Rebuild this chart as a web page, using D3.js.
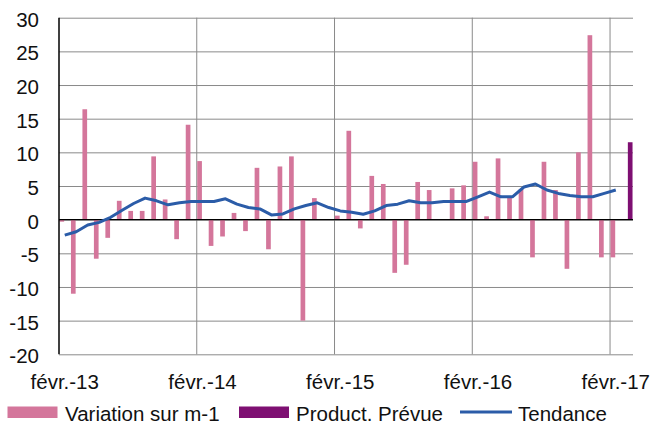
<!DOCTYPE html>
<html>
<head>
<meta charset="utf-8">
<script src="https://cdn.jsdelivr.net/npm/d3@7"></script>
<style>
  body { margin: 0; background: #fff; }
  text { font-family: "Liberation Sans", Arial, sans-serif; font-size: 20.5px; fill: #111; }
</style>
</head>
<body>
<div id="chart"></div>
<script>
var svgWidth = 654;
var svgHeight = 425;

// months from févr.-13 to mars-17 (50 categories)
var months = d3.timeMonth.range(new Date(2013, 1, 1), new Date(2017, 3, 1));
var tickIdx = [0, 12, 24, 36, 48];
var tickLabels = ["févr.-13", "févr.-14", "févr.-15", "févr.-16", "févr.-17"];
var yTicks = [-20, -15, -10, -5, 0, 5, 10, 15, 20, 25, 30];

var variation = [-0.3, -11.0, 16.4, -5.8, -2.7, 2.8, 1.3, 1.3, 9.4, 3.0, -2.9, 14.1,
  8.7, -3.9, -2.5, 1.0, -1.7, 7.7, -4.4, 7.9, 9.4, -15.0, 3.2, 0.0,
  0.6, 13.2, -1.3, 6.5, 5.3, -7.9, -6.7, 5.6, 4.4, 0.0, 4.65, 5.1,
  8.6, 0.5, 9.1, 3.5, 4.5, -5.6, 8.6, 4.4, -7.3, 10.0, 27.4, -5.6,
  -5.6, null];
var prevue = [];
prevue[49] = 11.5;
var tendance = [-2.3, -1.8, -0.8, -0.4, 0.35, 1.4, 2.4, 3.2, 2.8, 2.2, 2.5, 2.7,
  2.7, 2.7, 3.1, 2.3, 1.8, 1.6, 0.7, 0.85, 1.6, 2.1, 2.5, 1.8,
  1.3, 1.1, 0.8, 1.3, 2.1, 2.3, 2.8, 2.5, 2.5, 2.7, 2.7, 2.7,
  3.4, 4.1, 3.4, 3.4, 4.85, 5.3, 4.4, 3.9, 3.6, 3.4, 3.4, 3.9,
  4.4];

var pinkColor = "#d4769b";
var purpleColor = "#7e0f72";
var blueColor = "#2b5ca8";
var gridColor = "#8a8a8a";

var plotLeft = 59, plotRight = 633, plotTop = 17.7, plotBottom = 354.3;

var svg = d3.select("#chart")
  .append("svg")
  .attr("width", svgWidth)
  .attr("height", svgHeight);

var x = d3.scaleBand()
  .domain(d3.range(months.length))
  .range([plotLeft, plotRight])
  .padding(0);

var bw = x.bandwidth();

var xSeries = d3.scaleBand()
  .domain(["variation", "prevue"])
  .range([0, bw])
  .paddingInner(0.2)
  .paddingOuter(0.08);

var y = d3.scaleLinear()
  .domain([-20, 30])
  .range([plotBottom, plotTop]);

// y axis with horizontal grid
var yAxis = svg.append("g")
  .attr("transform", `translate(${plotLeft},0)`)
  .call(d3.axisLeft(y).tickValues(yTicks).tickSize(-(plotRight - plotLeft)).tickFormat(d => String(d)));
yAxis.select(".domain").remove();
yAxis.selectAll("line").attr("stroke", gridColor).attr("stroke-width", 1);
yAxis.selectAll("text")
  .attr("x", -20)
  .attr("dy", "0.42em")
  .style("font-size", "20.5px")
  .attr("fill", "#111");

// vertical grid at years
svg.append("g")
  .selectAll("line")
  .data(tickIdx.slice(1))
  .enter()
  .append("line")
  .attr("x1", d => x(d))
  .attr("x2", d => x(d))
  .attr("y1", plotTop)
  .attr("y2", plotBottom)
  .attr("stroke", gridColor)
  .attr("stroke-width", 1);

// bars
svg.append("g")
  .selectAll("rect")
  .data(variation.map((v, i) => ({ i: i, v: v })).filter(d => d.v != null))
  .enter()
  .append("rect")
  .attr("x", d => x(d.i) + xSeries("variation"))
  .attr("width", xSeries.bandwidth())
  .attr("y", d => y(Math.max(0, d.v)))
  .attr("height", d => Math.abs(y(d.v) - y(0)))
  .attr("fill", pinkColor);

svg.append("g")
  .selectAll("rect")
  .data(prevue.map((v, i) => ({ i: i, v: v })).filter(d => d.v != null))
  .enter()
  .append("rect")
  .attr("x", d => x(d.i) + xSeries("prevue"))
  .attr("width", xSeries.bandwidth())
  .attr("y", d => y(Math.max(0, d.v)))
  .attr("height", d => Math.abs(y(d.v) - y(0)))
  .attr("fill", purpleColor);

// zero line and left axis
svg.append("line")
  .attr("x1", plotLeft).attr("x2", plotRight)
  .attr("y1", y(0)).attr("y2", y(0))
  .attr("stroke", "#000").attr("stroke-width", 1.3);
svg.append("line")
  .attr("x1", plotLeft).attr("x2", plotLeft)
  .attr("y1", plotTop).attr("y2", plotBottom)
  .attr("stroke", "#000").attr("stroke-width", 1.5);

// trend line
var line = d3.line()
  .x((d, i) => x(i) + bw / 2)
  .y(d => y(d));
svg.append("path")
  .datum(tendance)
  .attr("d", line)
  .attr("fill", "none")
  .attr("stroke", blueColor)
  .attr("stroke-width", 3)
  .attr("stroke-linejoin", "round");

// x axis labels
var xAxis = svg.append("g")
  .attr("transform", `translate(0,${plotBottom})`)
  .call(d3.axisBottom(x).tickValues(tickIdx).tickSize(0).tickFormat((d, i) => tickLabels[i]));
xAxis.select(".domain").remove();
xAxis.selectAll("text")
  .attr("y", 34.5)
  .attr("dy", 0)
  .style("font-size", "20.5px")
  .attr("fill", "#111");

// legend
var legend = svg.append("g");
legend.append("rect")
  .attr("x", 7.5).attr("y", 406.5).attr("width", 50).attr("height", 11.5)
  .attr("fill", pinkColor);
legend.append("rect")
  .attr("x", 239).attr("y", 406.5).attr("width", 50).attr("height", 11.5)
  .attr("fill", purpleColor);
legend.append("line")
  .attr("x1", 460).attr("x2", 512).attr("y1", 412).attr("y2", 412)
  .attr("stroke", blueColor).attr("stroke-width", 3);

var legendItems = [
  { label: "Variation sur m-1", x: 65 },
  { label: "Product. Prévue", x: 296 },
  { label: "Tendance", x: 518 }
];
legend.selectAll("text.lg")
  .data(legendItems)
  .enter()
  .append("text")
  .attr("class", "lg")
  .attr("x", d => d.x)
  .attr("y", 420.5)
  .text(d => d.label);
</script>
</body>
</html>
